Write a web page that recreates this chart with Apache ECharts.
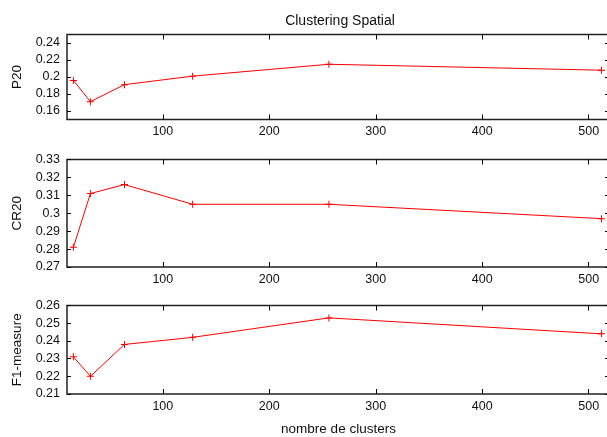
<!DOCTYPE html>
<html>
<head>
<meta charset="utf-8">
<script src="https://cdn.jsdelivr.net/npm/echarts@6/dist/echarts.min.js"></script>
<style>html,body{margin:0;padding:0;background:#fff;overflow:hidden}#c{width:620px;height:437px}</style>
</head>
<body>
<div id="c"></div>
<script>
const xValues = [16, 32, 64, 128, 256, 512];
const p20 = [0.196, 0.171, 0.191, 0.201, 0.215, 0.208];
const cr20 = [0.281, 0.311, 0.316, 0.305, 0.305, 0.297];
const f1 = [0.231, 0.220, 0.238, 0.242, 0.253, 0.244];
const xTicks = [100, 200, 300, 400, 500];
const p20Ticks = [0.16, 0.18, 0.2, 0.22, 0.24];
const cr20Ticks = [0.27, 0.28, 0.29, 0.3, 0.31, 0.32, 0.33];
const f1Ticks = [0.21, 0.22, 0.23, 0.24, 0.25, 0.26];
const panelNames = ['P20', 'CR20', 'F1-measure'];
const panelData = [p20, cr20, f1];
const panelTicks = [p20Ticks, cr20Ticks, f1Ticks];
const panelRanges = [[0.15, 0.25], [0.27, 0.33], [0.21, 0.26]];

const FONT = "'Liberation Sans', Arial, sans-serif";
const layout = [
  {top: 34.5, height: 85},
  {top: 159.5, height: 107.5},
  {top: 305.5, height: 95.5}
];
const plusPath = 'path://M3,0 h1 v3 h3 v1 h-3 v3 h-1 v-3 h-3 v-1 h3 z';
const fmt = v => String(parseFloat(Number(v).toFixed(3)));

const grid = [], xAxis = [], yAxis = [], series = [];
layout.forEach((l, i) => {
  grid.push({left: 67, width: 543, top: l.top, height: l.height, show: true,
    borderColor: '#222', borderWidth: 1.5, backgroundColor: 'transparent'});
  const tickStyle = {show: true, inside: true, length: 5, lineStyle: {color: '#000', width: 1}};
  xAxis.push({
    type: 'value', gridIndex: i, min: 10, max: 520, position: 'bottom',
    axisLine: {show: false}, splitLine: {show: false},
    axisTick: Object.assign({customValues: xTicks}, tickStyle),
    axisLabel: {customValues: xTicks, color: '#111', fontFamily: FONT, fontSize: 12.5, margin: 6},
    name: i === 2 ? 'nombre de clusters' : '', nameLocation: 'middle', nameGap: 28,
    nameTextStyle: {color: '#111', fontFamily: FONT, fontSize: 13.5}
  });
  xAxis.push({
    type: 'value', gridIndex: i, min: 10, max: 520, position: 'top',
    axisLine: {show: false}, splitLine: {show: false},
    axisTick: Object.assign({customValues: xTicks}, tickStyle),
    axisLabel: {show: false}
  });
  const r = panelRanges[i];
  yAxis.push({
    type: 'value', gridIndex: i, min: r[0], max: r[1], position: 'left',
    axisLine: {show: false}, splitLine: {show: false},
    axisTick: Object.assign({customValues: panelTicks[i]}, tickStyle, {length: 4}),
    axisLabel: {customValues: panelTicks[i], formatter: fmt, color: '#111', fontFamily: FONT, fontSize: 12.5, margin: 7,
      showMinLabel: true, showMaxLabel: true},
    name: panelNames[i], nameLocation: 'middle', nameGap: 43, nameRotate: 90,
    nameTextStyle: {color: '#111', fontFamily: FONT, fontSize: 13.5}
  });
  yAxis.push({
    type: 'value', gridIndex: i, min: r[0], max: r[1], position: 'right',
    axisLine: {show: false}, splitLine: {show: false},
    axisTick: Object.assign({customValues: panelTicks[i]}, tickStyle, {length: 5}),
    axisLabel: {show: false}
  });
  series.push({
    type: 'line', xAxisIndex: 2 * i, yAxisIndex: 2 * i,
    data: xValues.map((x, k) => [x, panelData[i][k]]),
    symbol: plusPath, symbolSize: 7, showSymbol: true,
    lineStyle: {color: '#ff0000', width: 1},
    itemStyle: {color: '#ff0000'},
    animation: false, silent: true
  });
});

const chart = echarts.init(document.getElementById('c'), null, {renderer: 'canvas'});
chart.setOption({
  animation: false,
  backgroundColor: '#fff',
  title: {text: 'Clustering Spatial', left: 335, top: 9, textAlign: 'center',
    textStyle: {color: '#111', fontFamily: FONT, fontSize: 14, fontWeight: 'normal'}},
  grid, xAxis, yAxis, series
});
</script>
</body>
</html>
